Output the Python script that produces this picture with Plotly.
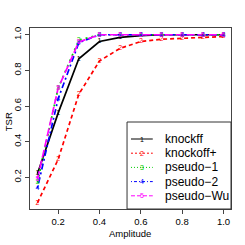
import plotly.graph_objects as go

amplitude = [0.1, 0.2, 0.3, 0.4, 0.5, 0.6, 0.7, 0.8, 0.9, 1.0]
knockff = [0.22, 0.56, 0.865, 0.962, 0.985, 0.995, 1.0, 1.0, 1.0, 1.0]
knockoff_plus = [0.057, 0.30, 0.666, 0.853, 0.924, 0.962, 0.975, 0.98, 0.987, 0.99]
pseudo_1 = [0.17, 0.70, 0.97, 1.0, 1.0, 1.0, 1.0, 1.0, 1.0, 1.0]
pseudo_2 = [0.14, 0.64, 0.955, 1.0, 1.0, 1.0, 1.0, 1.0, 1.0, 1.0]
pseudo_wu = [0.19, 0.70, 0.96, 1.0, 1.0, 1.0, 1.0, 1.0, 1.0, 1.0]

series_names = ["knockff", "knockoff+", "pseudo\u22121", "pseudo\u22122", "pseudo\u2212Wu"]
series_values = [knockff, knockoff_plus, pseudo_1, pseudo_2, pseudo_wu]
series_glyphs = ["1", "2", "3", "4", "5"]
colors = ["#000000", "#FF0000", "#00CD00", "#0000FF", "#FF00FF"]
dashes = ["solid", "4px,3px", "2px,4px", "2px,3px,6px,3px", "8px,3px"]
legend_dashes = ["solid", "2px,2px", "1px,2px", "1px,2px,3px,2px", "4px,2px"]

x_ticks = [0.2, 0.4, 0.6, 0.8, 1.0]
y_ticks = [0.2, 0.4, 0.6, 0.8, 1.0]
tick_text = ["0.2", "0.4", "0.6", "0.8", "1.0"]

FONT = "Liberation Sans, Arial, sans-serif"
W = H = 245
ML, MR, MT, MB = 28, 14, 28, 36
PW, PH = W - ML - MR, H - MT - MB


def px(xp):
    return (xp - ML) / PW


def py(yp):
    return (H - MB - yp) / PH


fig = go.Figure()
for name, vals, col, dash in zip(series_names, series_values, colors, dashes):
    fig.add_trace(go.Scatter(
        x=amplitude, y=vals, mode="lines", name=name, showlegend=False,
        line=dict(color=col, width=1.7, dash=dash),
    ))
for vals, col, g in zip(series_values, colors, series_glyphs):
    fig.add_trace(go.Scatter(
        x=amplitude, y=vals, mode="text", text=[g] * len(vals),
        textfont=dict(color=col, size=7, family=FONT),
        showlegend=False, hoverinfo="skip",
    ))

# manual legend box (R style)
shapes = [dict(type="rect", xref="paper", yref="paper",
               x0=px(126), x1=1.0, y0=0.0, y1=py(122),
               line=dict(color="#333333", width=1), fillcolor="white", layer="above")]
annotations = []
for i, (name, col, ld, g) in enumerate(zip(series_names, colors, legend_dashes, series_glyphs)):
    yy = py(139 + i * 14.2)
    shapes.append(dict(type="line", xref="paper", yref="paper",
                       x0=px(130), x1=px(152), y0=yy, y1=yy,
                       line=dict(color=col, width=1, dash=ld), layer="above"))
    annotations.append(dict(x=px(141), y=yy, xref="paper", yref="paper", text=g,
                            showarrow=False, font=dict(size=7, color=col, family=FONT),
                            xanchor="center", yanchor="middle"))
    annotations.append(dict(x=px(162), y=yy, xref="paper", yref="paper", text=name,
                            showarrow=False, font=dict(size=12, color="#000000", family=FONT),
                            xanchor="left", yanchor="middle"))

annotations.append(dict(x=px(129), y=py(233), xref="paper", yref="paper", text="Amplitude",
                        showarrow=False, font=dict(size=9.5, color="#000000", family=FONT),
                        xanchor="center", yanchor="middle"))
annotations.append(dict(x=px(6), y=py(122), xref="paper", yref="paper", text="TSR",
                        showarrow=False, textangle=-90,
                        font=dict(size=9.5, color="#000000", family=FONT),
                        xanchor="center", yanchor="middle"))

fig.update_layout(
    width=W, height=H,
    margin=dict(l=ML, r=MR, t=MT, b=MB),
    paper_bgcolor="white", plot_bgcolor="white",
    font=dict(family=FONT, color="#000000", size=10),
    showlegend=False, hovermode=False,
    shapes=shapes, annotations=annotations,
)
fig.update_xaxes(
    range=[0.064, 1.036], tickvals=x_ticks, ticktext=tick_text,
    showgrid=False, zeroline=False, showline=True, linecolor="#444444", linewidth=1,
    mirror=True, ticks="outside", ticklen=4, tickcolor="#444444",
    tickfont=dict(size=9.5),
)
fig.update_yaxes(
    range=[0.022, 1.038], tickvals=y_ticks, ticktext=tick_text,
    showgrid=False, zeroline=False, showline=True, linecolor="#444444", linewidth=1,
    mirror=True, ticks="outside", ticklen=4, tickcolor="#444444",
    tickangle=-90, tickfont=dict(size=9.5),
)
fig.write_html(
    "out.html",
    config={"staticPlot": True, "displayModeBar": False},
    post_script="document.body.style.margin='0px';document.body.style.overflow='hidden';",
)
